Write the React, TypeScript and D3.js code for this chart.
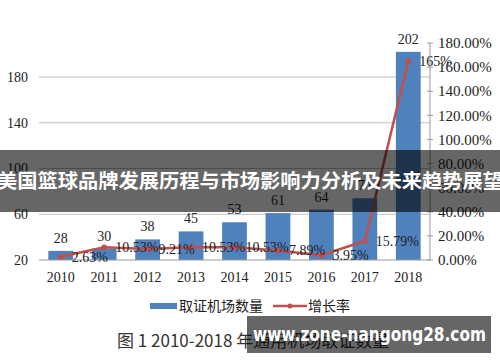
import React from "react";
import * as d3 from "d3";

const years = ["2010", "2011", "2012", "2013", "2014", "2015", "2016", "2017", "2018"];
const airports = [28, 30, 38, 45, 53, 61, 64, 74, 202];
const growth = [0.0263, 0.1053, 0.0921, 0.1053, 0.1053, 0.0789, 0.0395, 0.1579, 1.65];
const growthLabels = ["2.63%", "10.53%", "9.21%", "10.53%", "10.53%", "7.89%", "3.95%", "15.79%", "165%"];
const leftTicks = [20, 60, 100, 140, 180];
const rightTicks = [0, 0.2, 0.4, 0.6, 0.8, 1.0, 1.2, 1.4, 1.6, 1.8];

const W = 500;
const H = 362;
const serif = "'Liberation Serif', 'Times New Roman', serif";
const cjk = "'Noto Sans CJK SC', sans-serif";

const App = () => {
  const x = d3.scaleBand().domain(years).range([39, 430]).paddingInner(0.43).paddingOuter(0.215);
  const yL = d3.scaleLinear().domain([20, 180]).range([260, 77]);
  const yR = d3.scaleLinear().domain([0, 1.8]).range([260, 43]);
  const cx = (i) => x(years[i]) + x.bandwidth() / 2;

  const line = d3
    .line()
    .x((d, i) => cx(i))
    .y((d) => yR(d));

  return (
    <svg width={W} height={H} style={{ position: "absolute", left: 0, top: 0, background: "#fff" }}>
      {/* 网格线 */}
      {leftTicks.map((t) => (
        <g key={t}>
          {t !== 20 && <line x1={39} x2={430} y1={yL(t)} y2={yL(t)} stroke="#bfbfbf" strokeWidth={1} />}
          <text x={28} y={yL(t)} dy="0.35em" textAnchor="end" fontFamily={serif} fontSize={14} fill="#222">
            {t}
          </text>
        </g>
      ))}

      {/* 柱子 */}
      {airports.map((v, i) => (
        <g key={years[i]}>
          <rect x={x(years[i])} y={yL(v)} width={x.bandwidth()} height={yL(20) - yL(v)} fill="#4f81bd" />
          <text x={cx(i)} y={yL(v) - 8} textAnchor="middle" fontFamily={serif} fontSize={14} fill="#222">
            {v}
          </text>
        </g>
      ))}

      {/* 坐标轴 */}
      <line x1={39} x2={430} y1={260} y2={260} stroke="#999" />
      <line x1={430} x2={430} y1={43} y2={260} stroke="#999" />
      {rightTicks.map((t) => (
        <g key={t}>
          <line x1={427} x2={433} y1={yR(t)} y2={yR(t)} stroke="#999" />
          <text x={438} y={yR(t)} dy="0.35em" fontFamily={serif} fontSize={15} fill="#222">
            {d3.format(".2%")(t)}
          </text>
        </g>
      ))}
      {years.map((yr, i) => (
        <text key={yr} x={cx(i)} y={282} textAnchor="middle" fontFamily={serif} fontSize={14} fill="#222">
          {yr}
        </text>
      ))}

      {/* 增长率折线 */}
      <path d={line(growth)} fill="none" stroke="#c0504d" strokeWidth={2.5} />
      {growth.map((g, i) => (
        <circle key={i} cx={cx(i)} cy={yR(g)} r={2.8} fill="#c0504d" />
      ))}
      {growth.map((g, i) => (
        <text key={i} x={cx(i) + 11} y={yR(g)} dy="0.35em" fontFamily={serif} fontSize={14} fill="#222">
          {growthLabels[i]}
        </text>
      ))}

      {/* 图例 */}
      <rect x={150} y={303} width={27} height={6} fill="#4f81bd" />
      <text x={179} y={306} dy="0.35em" fontFamily={cjk} fontSize={14} fill="#222">
        取证机场数量
      </text>
      <line x1={273} x2={307} y1={306} y2={306} stroke="#c0504d" strokeWidth={2.5} />
      <circle cx={290} cy={306} r={2.5} fill="#c0504d" />
      <text x={308} y={306} dy="0.35em" fontFamily={cjk} fontSize={14} fill="#222">
        增长率
      </text>

      {/* 标题 */}
      <text x={117} y={347} fontFamily={cjk} fontSize={17} fill="#333">
        图 1 2010-2018 年通用机场取证数量
      </text>

      {/* 横幅 */}
      <rect x={0} y={150} width={W} height={62} fill="#000" opacity={0.6} />
      <text
        x={-3}
        y={181}
        dy="0.35em"
        fontFamily={cjk}
        fontWeight="bold"
        fontSize={19.5}
        fill="#fff"
        textLength={506}
        lengthAdjust="spacingAndGlyphs"
      >
        美国篮球品牌发展历程与市场影响力分析及未来趋势展望
      </text>

      {/* 水印 */}
      <rect x={247} y={316} width={244} height={37} fill="#000" opacity={0.6} />
      <text
        x={253}
        y={334.5}
        dy="0.35em"
        fontFamily="'DejaVu Sans', sans-serif"
        fontWeight="bold"
        fontSize={19}
        fill="#fff"
        textLength={233}
        lengthAdjust="spacingAndGlyphs"
      >
        www.zone-nangong28.com
      </text>
    </svg>
  );
};

export default App;
